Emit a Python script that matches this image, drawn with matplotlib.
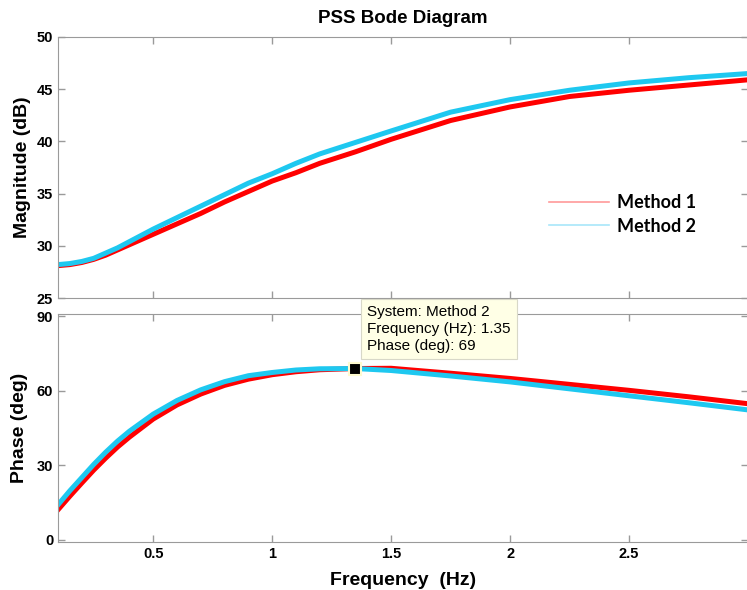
import matplotlib.pyplot as plt

# frequency points (Hz) and readings for both methods
freq = [0.1, 0.15, 0.2, 0.25, 0.3, 0.35, 0.4, 0.5, 0.6, 0.7, 0.8, 0.9, 1.0,
        1.1, 1.2, 1.35, 1.5, 1.75, 2.0, 2.25, 2.5, 2.75, 3.0]
mag_m1 = [28.1, 28.2, 28.4, 28.7, 29.1, 29.6, 30.1, 31.1, 32.1, 33.1, 34.2,
          35.2, 36.2, 37.0, 37.9, 39.0, 40.2, 42.0, 43.3, 44.3, 44.9, 45.4, 45.9]
mag_m2 = [28.2, 28.3, 28.5, 28.8, 29.3, 29.8, 30.4, 31.6, 32.7, 33.8, 34.9,
          36.0, 36.9, 37.9, 38.8, 39.9, 41.0, 42.8, 44.0, 44.9, 45.6, 46.1, 46.5]
phase_m1 = [12.0, 17.5, 22.8, 28.0, 32.8, 37.3, 41.3, 48.6, 54.3, 58.7,
            62.2, 64.7, 66.5, 67.7, 68.5, 69.0, 69.1, 67.1, 65.0, 62.6, 60.2,
            57.6, 54.8]
phase_m2 = [14.0, 19.7, 25.0, 30.3, 35.2, 39.7, 43.7, 50.6, 56.1, 60.4,
            63.7, 66.1, 67.4, 68.4, 68.9, 69.0, 68.2, 66.0, 63.6, 60.8, 58.0,
            55.2, 52.3]
tip_freq = 1.35
tip_phase = 69
xticks = [0.5, 1, 1.5, 2, 2.5]
xtick_labels = ['0.5', '1', '1.5', '2', '2.5']

plt.rcParams['font.family'] = ['Liberation Sans', 'DejaVu Sans']
red = '#ff0000'
cyan = '#1ec8f0'
edge = '#9a9a9a'

fig = plt.figure(figsize=(7.47, 5.9), dpi=100)
ax1 = fig.add_axes([58 / 747, 1 - 298 / 590, 690 / 747, 261 / 590])
ax2 = fig.add_axes([58 / 747, 1 - 542 / 590, 690 / 747, 228 / 590])

for ax in (ax1, ax2):
    ax.set_xlim(0.1, 3.0)
    ax.set_xticks(xticks)
    ax.tick_params(direction='in', length=5, color=edge, top=True, right=True,
                   labelsize=10.5, width=1)
    for s in ax.spines.values():
        s.set_color(edge)

ax1.plot(freq, mag_m1, color=red, lw=3.6, label='Method 1')
ax1.plot(freq, mag_m2, color=cyan, lw=3.6, label='Method 2')
ax1.set_ylim(25, 50)
ax1.set_yticks([25, 30, 35, 40, 45, 50])
ax1.set_xticklabels([])
ax1.set_ylabel('Magnitude (dB)', fontsize=14, fontweight='bold', labelpad=4)
ax1.set_title('PSS Bode Diagram', fontsize=13.5, fontweight='bold', pad=10)
for lbl in ax1.get_yticklabels():
    lbl.set_fontweight('bold')

# legend with thin pale lines, no frame
h1, = ax1.plot([], [], color='#ff9a9a', lw=1.2)
h2, = ax1.plot([], [], color='#a8e6fa', lw=1.2)
ax1.legend([h1, h2], ['Method 1', 'Method 2'], loc='upper left',
           bbox_to_anchor=(0.688, 0.46), frameon=False, handlelength=3.3,
           handletextpad=0.45, labelspacing=0.35,
           prop={'family': 'Lato', 'weight': 'bold', 'size': 13})

ax2.plot(freq, phase_m1, color=red, lw=3.6)
ax2.plot(freq, phase_m2, color=cyan, lw=3.6)
ax2.set_ylim(-1, 91)
ax2.set_yticks([0, 30, 60, 90])
ax2.set_xticklabels(xtick_labels)
ax2.set_ylabel('Phase (deg)', fontsize=14, fontweight='bold', labelpad=6)
ax2.set_xlabel('Frequency  (Hz)', fontsize=14, fontweight='bold', labelpad=8)
for lbl in ax2.get_xticklabels() + ax2.get_yticklabels():
    lbl.set_fontweight('bold')

# data tip
ax2.plot([tip_freq], [tip_phase], marker='s', ms=8, color='black',
         mec='#fffbd0', mew=1.5, zorder=5)
fig.text(367 / 747, 1 - 329 / 590,
         'System: Method 2\nFrequency (Hz): 1.35\nPhase (deg): 69',
         fontsize=11, va='center', ha='left', linespacing=1.3,
         bbox=dict(boxstyle='square,pad=0.4', fc='#ffffe6', ec='#d8d8c8', lw=0.8),
         zorder=10)

fig.savefig('out.png', dpi=100)
